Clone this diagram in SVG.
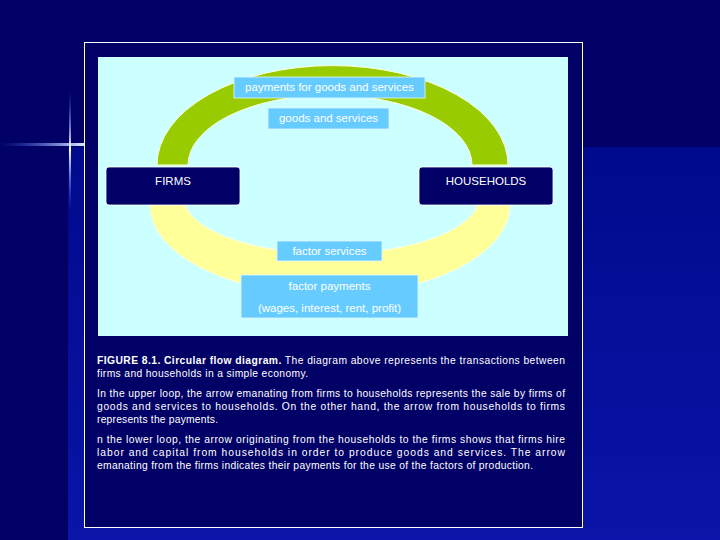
<svg xmlns="http://www.w3.org/2000/svg" width="720" height="540" viewBox="0 0 720 540">
<defs>
<linearGradient id="bg" x1="0" y1="0" x2="0" y2="1"><stop offset="0" stop-color="#000a8c"/><stop offset="1" stop-color="#0a14a8"/></linearGradient>
<linearGradient id="hl" x1="0" y1="0" x2="1" y2="0"><stop offset="0" stop-color="#4466ff" stop-opacity="0"/><stop offset="0.8" stop-color="#ccddff"/><stop offset="1" stop-color="#ffffff"/></linearGradient>
<linearGradient id="vl" x1="0" y1="0" x2="0" y2="1"><stop offset="0" stop-color="#4466ff" stop-opacity="0"/><stop offset="0.5" stop-color="#ffffff"/><stop offset="1" stop-color="#4466ff" stop-opacity="0"/></linearGradient>
</defs>
<style>
.lbl{fill:#66ccff;stroke:#e0f8ff;stroke-width:0.8}
.box{fill:#000066;stroke:#ffffff;stroke-width:0.8}
.t{font-family:"Liberation Sans",Arial,sans-serif;font-size:11.5px;fill:#ffffff;text-anchor:middle}
.c{font-family:"Liberation Sans",Arial,sans-serif;font-size:10.3px;fill:#ffffff}
</style>
<rect width="720" height="540" fill="#000066"/>
<rect x="68" y="147" width="652" height="393" fill="url(#bg)"/>
<rect x="0" y="143" width="100" height="3" fill="url(#hl)"/>
<rect x="69" y="90" width="2" height="120" fill="url(#vl)"/>
<rect x="84.5" y="42.5" width="498" height="485" fill="#000066" stroke="#ffffff" stroke-width="1"/>
<rect x="98" y="57" width="470" height="279" fill="#ccffff"/>
<g id="connectors">
<path d="M157,165 A173,98 0 0 1 508,165 L472,165 A142,70 0 0 0 188,165 Z" fill="#99cc00" stroke="#ffffe0" stroke-width="1"/>
<path d="M150,205 A180,90 0 0 0 510,205 L478,205 A148,57 0 0 1 185,205 Z" fill="#ffff99" stroke="#ffffe0" stroke-width="1"/>
</g>
<g id="firms"><rect class="box" x="106" y="167" width="134" height="38" rx="3"/><text class="t" x="173" y="185">FIRMS</text></g>
<g id="households"><rect class="box" x="419" y="167" width="134" height="38" rx="3"/><text class="t" x="486" y="185">HOUSEHOLDS</text></g>
<g id="payments"><rect class="lbl" x="234" y="77" width="191" height="21"/><text class="t" x="329.5" y="91">payments for goods and services</text></g>
<g id="goods"><rect class="lbl" x="268" y="108" width="121" height="21"/><text class="t" x="328.5" y="122">goods and services</text></g>
<g id="factorservices"><rect class="lbl" x="277" y="241" width="105" height="20"/><text class="t" x="329.5" y="255">factor services</text></g>
<g id="factorpayments"><rect class="lbl" x="241" y="275" width="177" height="43"/><text class="t" x="329.5" y="290">factor payments</text><text class="t" x="329.5" y="312">(wages, interest, rent, profit)</text></g>
<text class="c" x="97" y="364" textLength="468" lengthAdjust="spacing"><tspan font-weight="bold">FIGURE 8.1. Circular flow diagram.</tspan>  The diagram above represents the transactions between</text>
<text class="c" x="97" y="377" textLength="211" lengthAdjust="spacing">firms and households in a simple economy.</text>
<text class="c" x="97" y="397" textLength="468" lengthAdjust="spacing">In the upper loop, the arrow emanating from firms to households represents the sale by firms of</text>
<text class="c" x="97" y="410" textLength="468" lengthAdjust="spacing">goods and services to households.  On the other hand, the arrow from households to firms</text>
<text class="c" x="97" y="423" textLength="121" lengthAdjust="spacing">represents the payments.</text>
<text class="c" x="97" y="443" textLength="468" lengthAdjust="spacing">n the lower loop, the arrow originating from the households to the firms shows that firms hire</text>
<text class="c" x="97" y="456" textLength="468" lengthAdjust="spacing">labor and capital from households in order to produce goods and services.  The arrow</text>
<text class="c" x="97" y="469" textLength="436" lengthAdjust="spacing">emanating from the firms indicates their payments for the use of the factors of production.</text>
</svg>
